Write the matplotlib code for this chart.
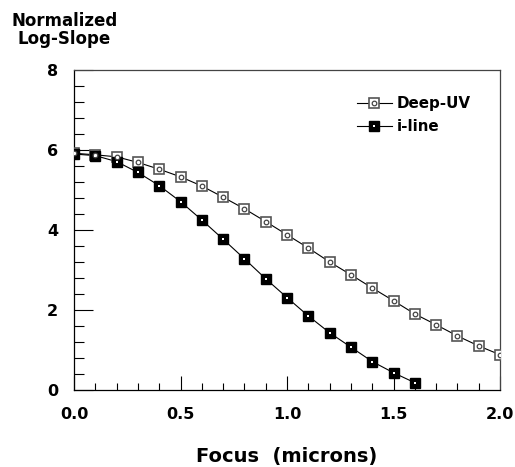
import numpy as np
import matplotlib
matplotlib.use("Agg")
import matplotlib.pyplot as plt
from matplotlib.lines import Line2D
from matplotlib.legend_handler import HandlerTuple
from matplotlib.ticker import MultipleLocator

plt.rcParams['font.family'] = ['DejaVu Sans']
plt.rcParams['font.weight'] = 'bold'

# Data
focus_duv = [0.0, 0.1, 0.2, 0.3, 0.4, 0.5, 0.6, 0.7, 0.8, 0.9, 1.0,
             1.1, 1.2, 1.3, 1.4, 1.5, 1.6, 1.7, 1.8, 1.9, 2.0]
slope_duv = [5.92, 5.88, 5.83, 5.69, 5.52, 5.33, 5.10, 4.82, 4.53, 4.21, 3.88,
             3.55, 3.20, 2.88, 2.55, 2.23, 1.90, 1.63, 1.35, 1.10, 0.88]
focus_iline = [0.0, 0.1, 0.2, 0.3, 0.4, 0.5, 0.6, 0.7, 0.8, 0.9, 1.0,
               1.1, 1.2, 1.3, 1.4, 1.5, 1.6]
slope_iline = [5.90, 5.86, 5.71, 5.44, 5.11, 4.71, 4.25, 3.77, 3.28, 2.78, 2.31,
               1.85, 1.43, 1.07, 0.71, 0.43, 0.18]

fig = plt.figure(figsize=(5.15, 4.67), dpi=100)
ax = fig.add_axes([0.1437, 0.165, 0.8273, 0.685])

# Deep-UV: open square with small circle inside
ax.plot(focus_duv, slope_duv, color='black', lw=0.8, zorder=2)
ax.plot(focus_duv, slope_duv, ls='none', marker='s', ms=6.5, mfc='white',
        mec='#555555', mew=1.2, zorder=3)
ax.plot(focus_duv, slope_duv, ls='none', marker='o', ms=3.3, mfc='white',
        mec='#444444', mew=0.9, zorder=4)

# i-line: filled square with white dot
ax.plot(focus_iline, slope_iline, color='black', lw=0.8, zorder=2)
ax.plot(focus_iline, slope_iline, ls='none', marker='s', ms=6.5, mfc='black',
        mec='black', mew=1.0, zorder=3)
ax.plot(focus_iline, slope_iline, ls='none', marker='s', ms=2.0, mfc='white',
        mec='white', mew=0, zorder=4)

ax.set_xlim(0, 2.0)
ax.set_ylim(0, 8)
ax.xaxis.set_minor_locator(MultipleLocator(0.1))
ax.yaxis.set_minor_locator(MultipleLocator(0.4))
ax.set_xticks([0.0, 0.5, 1.0, 1.5, 2.0])
ax.set_xticklabels(['0.0', '0.5', '1.0', '1.5', '2.0'])
ax.set_yticks([0, 2, 4, 6, 8])
ax.set_yticklabels(['0', '2', '4', '6', '8'])

ax.tick_params(axis='both', which='both', direction='in', width=0.8,
               labelsize=11.5, top=False, right=False)
ax.tick_params(axis='x', which='major', length=10, pad=12)
ax.tick_params(axis='x', which='minor', length=5)
ax.tick_params(axis='y', which='major', length=14, pad=11.5)
ax.tick_params(axis='y', which='minor', length=7)
for lab in ax.get_xticklabels() + ax.get_yticklabels():
    lab.set_fontweight('bold')

for side in ['left', 'bottom', 'right', 'top']:
    ax.spines[side].set_linewidth(0.9)
ax.spines['top'].set_color('#444444')
ax.spines['right'].set_color('#444444')

ax.set_xlabel('Focus  (microns)', fontsize=14, fontweight='bold', labelpad=18)
fig.text(0.125, 0.975, 'Normalized\nLog-Slope', fontsize=12, fontweight='bold',
         va='top', ha='center', multialignment='center', linespacing=1.0)

h_duv = (Line2D([], [], color='black', lw=0.8, marker='s', ms=6.5, mfc='white',
                mec='#555555', mew=1.2),
         Line2D([], [], ls='none', marker='o', ms=3.3, mfc='white',
                mec='#444444', mew=0.9))
h_iline = (Line2D([], [], color='black', lw=0.8, marker='s', ms=6.5, mfc='black',
                  mec='black'),
           Line2D([], [], ls='none', marker='s', ms=2.0, mfc='white',
                  mec='white', mew=0))
leg = ax.legend([h_duv, h_iline], ['Deep-UV', 'i-line'],
                handler_map={tuple: HandlerTuple(ndivide=1)},
                loc='upper left', bbox_to_anchor=(0.632, 0.96), frameon=False,
                handlelength=2.3, handletextpad=0.3, labelspacing=0.5,
                prop={'size': 10.9, 'weight': 'bold'})

fig.savefig('out.png', dpi=100)
